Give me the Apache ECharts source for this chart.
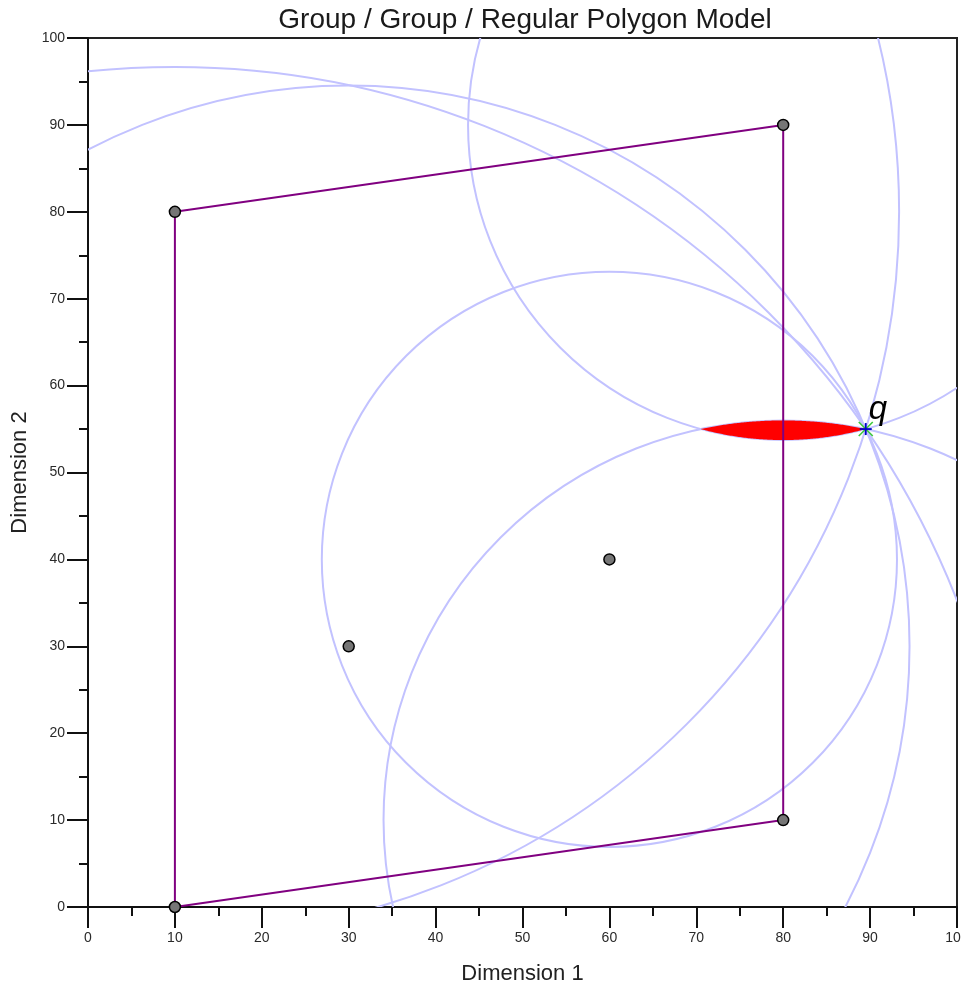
<!DOCTYPE html>
<html><head><meta charset="utf-8">
<script src="https://cdn.jsdelivr.net/npm/echarts@6/dist/echarts.min.js"></script>
<style>html,body{margin:0;padding:0;background:#fff}#c{width:961px;height:982px}</style>
</head><body><div id="c"></div>
<script>
// ---- data ----
const titleText = 'Group / Group / Regular Polygon Model';
const xName = 'Dimension 1';
const yName = 'Dimension 2';
const idealPoints = [[10, 0], [10, 80], [80, 90], [80, 10], [30, 30], [60, 40]];
const polygonPath = [[10, 80], [80, 90], [80, 10], [10, 0], [10, 80]];
const statusQuo = [89.5, 55];
const statusQuoLabel = 'q';
const winSetPair = [2, 3]; // indices of ideal points whose preferred discs intersect (red area)
const axisMin = 0, axisMax = 100, axisStep = 10;

// ---- chart ----
const chart = echarts.init(document.getElementById('c'), null, {renderer: 'canvas'});
const FONT = '"Liberation Sans", Arial, sans-serif';

function radiusOf(c) { return Math.hypot(statusQuo[0] - c[0], statusQuo[1] - c[1]); }

const axisCommon = {
  type: 'value', min: axisMin, max: axisMax, interval: axisStep,
  axisLine: {show: true, lineStyle: {color: '#111', width: 2}},
  axisTick: {show: true, inside: false, length: 21, lineStyle: {color: '#111', width: 2}},
  minorTick: {show: true, splitNumber: 2, length: 9, lineStyle: {color: '#111', width: 2}},
  splitLine: {show: false},
  minorSplitLine: {show: false},
  nameLocation: 'middle',
  nameTextStyle: {fontFamily: FONT, fontSize: 22, color: '#222'}
};

const option = {
  animation: false,
  backgroundColor: '#fff',
  grid: {left: 88, right: 4, top: 38, bottom: 75, containLabel: false, outerBoundsMode: 'none',
    show: true, borderColor: '#222', borderWidth: 2, backgroundColor: 'transparent'},
  graphic: [{
    type: 'text', x: 525, y: 20,
    style: {text: titleText, font: '28px ' + FONT, fill: '#1a1a1a', align: 'center', verticalAlign: 'middle'}
  }],
  xAxis: Object.assign({}, axisCommon, {
    name: xName, nameGap: 56,
    axisLabel: {margin: 24, fontFamily: FONT, fontSize: 14, color: '#2a2a2a', showMaxLabel: true, hideOverlap: false}
  }),
  yAxis: Object.assign({}, axisCommon, {
    name: yName, nameGap: 49,
    axisLabel: {margin: 23, fontFamily: FONT, fontSize: 14, color: '#2a2a2a', showMaxLabel: true, hideOverlap: false}
  }),
  series: [
    {
      type: 'custom', name: 'indifference', z: 1, clip: true,
      data: idealPoints,
      renderItem: function (params, api) {
        const cx = api.value(0), cy = api.value(1);
        const r = radiusOf([cx, cy]);
        const c = api.coord([cx, cy]);
        const s = api.size([r, r]);
        return {type: 'circle', shape: {cx: c[0], cy: c[1], r: s[0]},
          style: {fill: 'none', stroke: '#c2c2ff', lineWidth: 2}};
      }
    },
    {
      type: 'custom', name: 'winset', z: 2, clip: true,
      data: [statusQuo],
      renderItem: function (params, api) {
        const A = idealPoints[winSetPair[0]], B = idealPoints[winSetPair[1]];
        const rA = radiusOf(A), rB = radiusOf(B);
        const d = Math.hypot(B[0] - A[0], B[1] - A[1]);
        const a = (rA * rA - rB * rB + d * d) / (2 * d);
        const tAB = Math.atan2(B[1] - A[1], B[0] - A[0]);
        const tBA = tAB + Math.PI;
        const aA = Math.acos(Math.max(-1, Math.min(1, a / rA)));
        const aB = Math.acos(Math.max(-1, Math.min(1, (d - a) / rB)));
        const pts = [];
        const N = 120;
        for (let i = 0; i <= N; i++) {
          const t = tAB - aA + 2 * aA * i / N;
          pts.push(api.coord([A[0] + rA * Math.cos(t), A[1] + rA * Math.sin(t)]));
        }
        for (let i = 0; i <= N; i++) {
          const t = tBA - aB + 2 * aB * i / N;
          pts.push(api.coord([B[0] + rB * Math.cos(t), B[1] + rB * Math.sin(t)]));
        }
        return {type: 'polygon', shape: {points: pts}, style: {fill: '#ff0000'}};
      }
    },
    {
      type: 'line', name: 'polygon', z: 3, data: polygonPath,
      showSymbol: false, symbol: 'none',
      lineStyle: {color: '#800080', width: 2}, clip: true
    },
    {
      type: 'scatter', name: 'ideal points', z: 4, data: idealPoints,
      symbol: 'circle', symbolSize: 11,
      itemStyle: {color: '#767676', borderColor: '#000', borderWidth: 1.5, opacity: 1}
    },
    {
      type: 'custom', name: 'status quo', z: 5, clip: false,
      data: [statusQuo],
      renderItem: function (params, api) {
        const p = api.coord([api.value(0), api.value(1)]);
        const g = 7, b = 6;
        return {type: 'group', children: [
          {type: 'line', shape: {x1: p[0] - g, y1: p[1] - g, x2: p[0] + g, y2: p[1] + g}, style: {stroke: '#3cc83c', lineWidth: 1.6}},
          {type: 'line', shape: {x1: p[0] - g, y1: p[1] + g, x2: p[0] + g, y2: p[1] - g}, style: {stroke: '#3cc83c', lineWidth: 1.6}},
          {type: 'line', shape: {x1: p[0] - b, y1: p[1], x2: p[0] + b, y2: p[1]}, style: {stroke: '#0000c8', lineWidth: 1.8}},
          {type: 'line', shape: {x1: p[0], y1: p[1] - b, x2: p[0], y2: p[1] + b}, style: {stroke: '#0000c8', lineWidth: 1.8}},
          {type: 'text', x: p[0] + 3, y: p[1] - 19,
            style: {text: statusQuoLabel, font: 'italic 33px ' + FONT, fill: '#000', align: 'left', verticalAlign: 'middle'}}
        ]};
      }
    }
  ]
};
chart.setOption(option);
</script>
</body></html>
